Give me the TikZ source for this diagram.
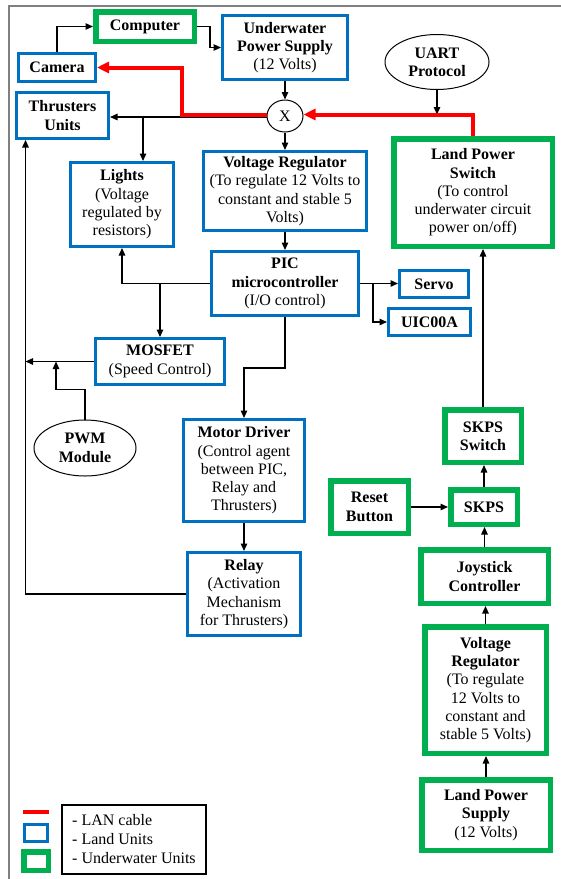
\documentclass[tikz,border=0pt]{standalone}
\usepackage{fontspec}
\setmainfont{Liberation Serif}
\usetikzlibrary{arrows.meta,shapes.geometric}
\definecolor{landblue}{RGB}{0,112,192}
\definecolor{uwgreen}{RGB}{0,176,80}
\definecolor{lanred}{RGB}{255,0,0}
\definecolor{framegray}{RGB}{128,128,128}
\begin{document}
\begin{tikzpicture}[x=1pt,y=-1pt,
  font=\fontsize{16}{18.3}\selectfont,
  land/.style={draw=landblue, line width=2.6pt, align=center, inner sep=0pt},
  under/.style={draw=uwgreen, line width=5.5pt, align=center, inner sep=0pt},
  oval/.style={ellipse, draw=black, line width=1pt, align=center, inner sep=0pt},
  arr/.style={draw=black, line width=1.3pt, -{Triangle[length=7.5pt,width=6.5pt]}},
  lan/.style={draw=lanred, line width=4pt, -{Triangle[length=12pt,width=11pt]}},
  plain/.style={draw=black, line width=1.3pt}]
\useasboundingbox (0,0) rectangle (561,879);
% partial outer frame
\draw[framegray, line width=2pt] (9,879) -- (9,6) -- (561,6);

% nodes
\node[under, minimum width=98.5pt, minimum height=29.5pt] (computer) at (145,26.5) {\textbf{Computer}};
\node[land, minimum width=77.4pt, minimum height=28.4pt] (camera) at (57,67.5) {\textbf{Camera}};
\node[land, minimum width=92.4pt, minimum height=46.4pt] (thrusters) at (62.5,115.5) {\textbf{Thrusters}\\\textbf{Units}};
\node[land, line width=3.2pt, minimum width=102.8pt, minimum height=83.8pt] (lights) at (122,204.5) {\textbf{Lights}\\(Voltage\\regulated by\\resistors)};
\node[land, minimum width=125.4pt, minimum height=64.4pt] (ups) at (285,47.5) {\textbf{Underwater}\\\textbf{Power Supply}\\(12 Volts)};
\node[oval, minimum width=36pt, minimum height=32pt] (x) at (285,116) {X};
\node[oval, minimum width=104pt, minimum height=55pt] (uart) at (437,62) {\textbf{UART}\\\textbf{Protocol}};
\node[under, minimum width=158.5pt, minimum height=107.5pt] (lsw) at (473,192.5) {\textbf{Land Power}\\\textbf{Switch}\\(To control\\underwater circuit\\power on/off)};
\node[land, minimum width=163.4pt, minimum height=79.4pt] (vreg) at (285,191) {\textbf{Voltage Regulator}\\(To regulate 12 Volts to\\constant and stable 5\\Volts)};
\node[land, minimum width=147.4pt, minimum height=64.4pt] (pic) at (285,283.5) {\textbf{PIC}\\\textbf{microcontroller}\\(I/O control)};
\node[land, minimum width=69.4pt, minimum height=27.4pt] (servo) at (434,284) {\textbf{Servo}};
\node[land, minimum width=82.4pt, minimum height=27.4pt] (uic) at (429.5,322) {\textbf{UIC00A}};
\node[land, minimum width=129.4pt, minimum height=46.4pt] (mosfet) at (160,361.5) {\textbf{MOSFET}\\(Speed Control)};
\node[oval, minimum width=102pt, minimum height=56pt] (pwm) at (85,448) {\textbf{PWM}\\\textbf{Module}};
\node[land, minimum width=121.4pt, minimum height=102.4pt] (motor) at (244,470.5) {\textbf{Motor Driver}\\(Control agent\\between PIC,\\Relay and\\Thrusters)};
\node[land, minimum width=113.4pt, minimum height=83.4pt] (relay) at (244,594) {\textbf{Relay}\\(Activation\\Mechanism\\for Thrusters)};
\node[under, minimum width=76.5pt, minimum height=52.5pt] (skpssw) at (483,436) {\textbf{SKPS}\\\textbf{Switch}};
\node[under, minimum width=66.5pt, minimum height=34.5pt] (skps) at (484,507) {\textbf{SKPS}};
\node[under, minimum width=77.5pt, minimum height=52.5pt] (reset) at (369.5,507) {\textbf{Reset}\\\textbf{Button}};
\node[under, minimum width=127.5pt, minimum height=53.5pt] (joy) at (484.5,576.5) {\textbf{Joystick}\\\textbf{Controller}};
\node[under, minimum width=121.5pt, minimum height=126.5pt] (vreg2) at (485.5,690) {\textbf{Voltage}\\\textbf{Regulator}\\(To regulate\\12 Volts to\\constant and\\stable 5 Volts)};
\node[under, minimum width=128.5pt, minimum height=70.5pt] (lps) at (486,815) {\textbf{Land Power}\\\textbf{Supply}\\(12 Volts)};

% helper coordinate for the left bus
\coordinate (lx) at (25.5,0);

% black connectors
\draw[arr] (camera.north) |- (computer.west);
\draw[arr] (computer.east) -- ++(13,0) |- (ups.west);
\draw[arr] (ups.south) -- (x.north);
\draw[arr] (x.south) -- (vreg.north);
\draw[arr] (vreg.south) -- (pic.north);
\draw[arr] ([yshift=-1pt]x.west) -- ([yshift=-1pt]x.west -| thrusters.east);
\draw[arr] ([xshift=21pt]lights.north |- x.west) -- ([xshift=21pt]lights.north);
\draw[arr] (pic.west) -| (lights.south);
\draw[arr] (pic.west -| mosfet.north) -- (mosfet.north);
\draw[arr] (pic.east) -- (pic.east -| servo.west);
\draw[arr] (pic.east) ++(13,0) |- (uic.west);
\draw[arr] (pic.south) -- ++(0,51) -| (motor.north);
\draw[arr] (motor.south) -- (relay.north);
\draw[arr] (relay.west) -| (lx |- thrusters.south);
\draw[arr] (mosfet.west) -- (mosfet.west -| lx);
\draw[arr] (pwm.north) -- ++(0,-30) -| ([xshift=-38pt]mosfet.west);
\draw[arr] (uart.south) -- ([yshift=1.5pt]uart.south |- x.east);
\draw[arr] (skpssw.north) -- (skpssw.north |- lsw.south);
\draw[arr] (skps.north) -- (skps.north |- skpssw.south);
\draw[arr] (reset.east) -- (skps.west);
\draw[arr] (joy.north) -- (joy.north |- skps.south);
\draw[arr] (vreg2.north) -- (vreg2.north |- joy.south);
\draw[arr] (lps.north) -- (lps.north |- vreg2.south);

% LAN cables (red)
\draw[lan] (lsw.north) |- ([yshift=1.5pt]x.east);
\draw[lan] ([yshift=1.5pt]x.west) -- ++(-85,0) |- (camera.east);

% legend
\coordinate (lr1) at (23,812);
\coordinate (lr2) at (49,812);
\draw[draw=lanred, line width=4pt] (lr1) -- (lr2);
\node[land, minimum width=23.4pt, minimum height=17.4pt] (legland) at (36,833) {};
\node[under, minimum width=24.5pt, minimum height=18.5pt] (legunder) at (36,861) {};
\node[draw=black, line width=1.3pt, minimum width=144pt, minimum height=69pt, inner sep=0pt] (legbox) at (134,839.5) {};
\node[anchor=west, align=left, inner sep=0pt, font=\fontsize{16}{19}\selectfont] (legtext) at (72,839.5) {- LAN cable\\- Land Units\\- Underwater Units};
\end{tikzpicture}
\end{document}
